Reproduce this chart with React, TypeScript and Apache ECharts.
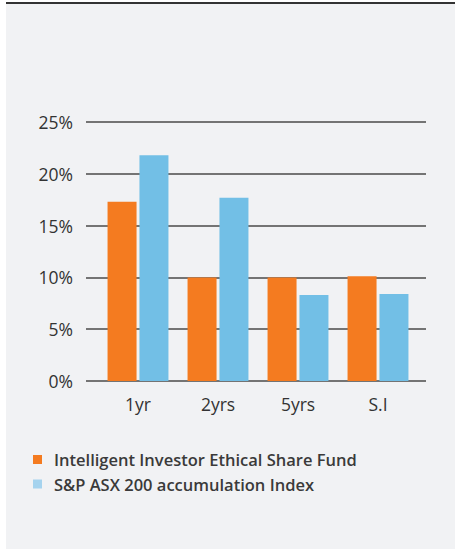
import React, { useEffect, useRef } from "react";
import * as echarts from "echarts";

const categories = ["1yr", "2yrs", "5yrs", "S.I"];
const fundName = "Intelligent Investor Ethical Share Fund";
const indexName = "S&P ASX 200 accumulation Index";
const fundValues = [17.3, 10.0, 10.0, 10.1];
const indexValues = [21.8, 17.7, 8.3, 8.4];
const yTicks = { min: 0, max: 25, interval: 5 };

const FONT = "'Open Sans', 'Noto Sans', sans-serif";

export default function App() {
  const ref = useRef<HTMLDivElement>(null);
  useEffect(() => {
    if (!ref.current) return;
    const chart = echarts.init(ref.current, undefined, { renderer: "svg" });
    chart.setOption({
      animation: false,
      textStyle: { fontFamily: FONT },
      grid: [
        { left: 86, right: 29, top: 122, bottom: 170 },
        { left: 98, right: 37, top: 122, bottom: 170 },
      ],
      xAxis: [
        { type: "category", gridIndex: 0, data: ["x"], show: false },
        {
          type: "category",
          gridIndex: 1,
          data: categories,
          axisLine: { show: false },
          axisTick: { show: false },
          axisLabel: { fontSize: 17.5, color: "#333", margin: 14, fontFamily: FONT },
        },
      ],
      yAxis: [
        {
          type: "value",
          gridIndex: 0,
          min: yTicks.min,
          max: yTicks.max,
          interval: yTicks.interval,
          axisLine: { show: false },
          axisTick: { show: false },
          axisLabel: { formatter: "{value}%", fontSize: 17.5, color: "#333", margin: 13, fontFamily: FONT },
          splitLine: { show: true, lineStyle: { color: "#4a4a4a", width: 1.5 } },
        },
        { type: "value", gridIndex: 1, min: yTicks.min, max: yTicks.max, show: false, splitLine: { show: false } },
      ],
      legend: {
        orient: "vertical",
        left: 33,
        top: 451,
        padding: 0,
        itemWidth: 9,
        itemHeight: 9,
        itemGap: 7.5,
        icon: "rect",
        textStyle: { fontSize: 16.5, lineHeight: 16.5, fontWeight: 600, color: "#3a3a3a", fontFamily: FONT, padding: [0, 0, 0, 7] },
        data: [
          { name: fundName, itemStyle: { color: "#F47B20" } },
          { name: indexName, itemStyle: { color: "#A5D3EE" } },
        ],
      },
      series: [
        {
          name: fundName,
          type: "bar",
          xAxisIndex: 1,
          yAxisIndex: 1,
          data: fundValues,
          barWidth: 29,
          barGap: "10%",
          itemStyle: { color: "#F47B20" },
        },
        {
          name: indexName,
          type: "bar",
          xAxisIndex: 1,
          yAxisIndex: 1,
          data: indexValues,
          barWidth: 29,
          barGap: "10%",
          itemStyle: { color: "#72BFE6" },
        },
      ],
    });
    return () => chart.dispose();
  }, []);

  return (
    <div style={{ position: "absolute", left: 0, top: 0, width: 455, height: 551, background: "#fff" }}>
      <div
        style={{
          position: "absolute",
          left: 6,
          top: 2,
          width: 449,
          height: 547,
          background: "#f1f2f4",
          borderTop: "2px solid #333",
          boxSizing: "border-box",
        }}
      />
      <div ref={ref} style={{ position: "absolute", left: 0, top: 0, width: 455, height: 551 }} />
    </div>
  );
}
